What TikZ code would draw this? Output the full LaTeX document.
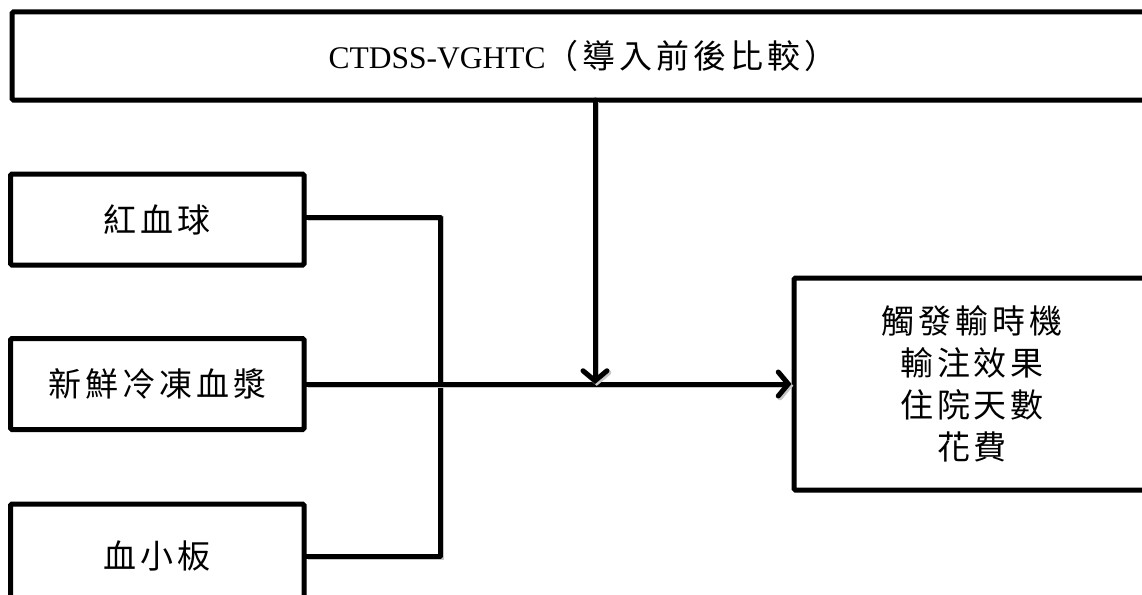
\documentclass[tikz,border=0pt]{standalone}
\usepackage{fontspec}
\setmainfont{Liberation Serif}
\newfontfamily\cjk[LetterSpace=12]{Noto Sans CJK TC}
\usetikzlibrary{arrows.meta,shadows}
\begin{document}
\begin{tikzpicture}[x=1pt,y=-1pt,
  box/.style={draw=black, line width=5pt, fill=white, rounded corners=1.5pt,
    drop shadow={shadow xshift=2pt, shadow yshift=-2pt, opacity=0.25, fill=black},
    font=\fontsize{33}{42}\selectfont, align=center, inner sep=0pt},
  leftbox/.style={box, minimum width=293.5pt, minimum height=91pt},
  wire/.style={line width=5pt, line cap=round, line join=round,
    preaction={draw=black!22, line width=5pt, transform canvas={shift={(1.8pt,-1.8pt)}}}},
  tip/.style={-{Straight Barb[length=10pt, width=24pt, line cap=round]}}
]
\useasboundingbox (0,0) rectangle (1142,594);
\clip (0,0) rectangle (1142,594);
\fill[white] (0,0) rectangle (1142,594);

% top box
\node[box, minimum width=1148pt, minimum height=88pt] (top) at (586,56)
  {\hspace*{-6pt}{\fontsize{31.5}{36}\selectfont CTDSS-VGHTC}{\cjk （導入前後比較）}};

% left boxes
\node[leftbox] (rbc) at (157.25,219.5) {\cjk 紅血球};
\node[leftbox] (ffp) at (157.25,384) {\cjk 新鮮冷凍血漿};
\node[leftbox, minimum height=104pt] (plt) at (157.25,556) {\cjk 血小板};

% right box
\node[box, minimum width=356pt, minimum height=212pt] (out) at (972,384)
  {\cjk 觸發輸時機\\ \cjk 輸注效果\\ \cjk 住院天數\\ \cjk 花費};

% helper coordinates
\coordinate (topx) at (595,100);
\coordinate (bx) at (440,0);

% bracket
\draw[wire] (rbc.east |- 0,217) -- (bx |- 0,217) -- (bx |- plt.east) -- (plt.east);

% main arrow
\draw[wire, tip] (ffp.east) -- (out.west);

% arrow from top box
\draw[wire, tip] (topx) -- (topx |- ffp.east);
\end{tikzpicture}
\end{document}
